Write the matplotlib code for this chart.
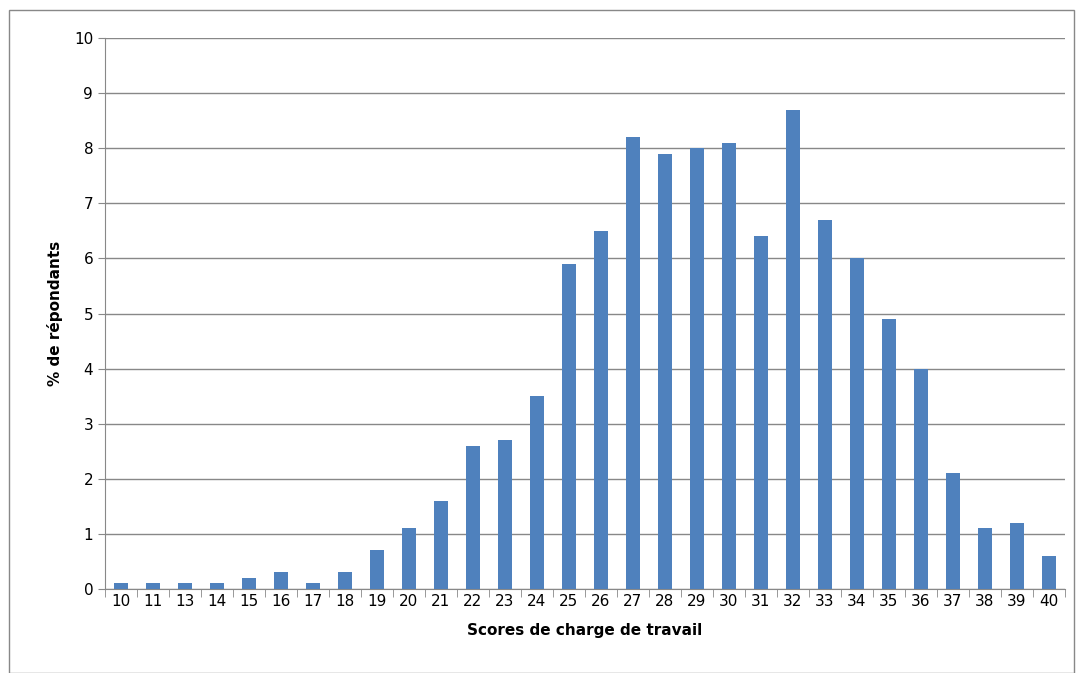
import matplotlib.pyplot as plt
import numpy as np

scores = ["10", "11", "13", "14", "15", "16", "17", "18", "19", "20", "21", "22", "23", "24", "25",
          "26", "27", "28", "29", "30", "31", "32", "33", "34", "35", "36", "37", "38", "39", "40"]
percent = [0.1, 0.1, 0.1, 0.1, 0.2, 0.3, 0.1, 0.3, 0.7, 1.1, 1.6, 2.6, 2.7, 3.5, 5.9,
           6.5, 8.2, 7.9, 8.0, 8.1, 6.4, 8.7, 6.7, 6.0, 4.9, 4.0, 2.1, 1.1, 1.2, 0.6]
yticks = list(range(0, 11))

fig = plt.figure(figsize=(10.76, 6.73), dpi=100)
ax = fig.add_axes([105 / 1076, 1 - 589 / 673, 960 / 1076, 551 / 673])
fig.patches.append(plt.Rectangle((0.008, 0.0), 0.99, 0.985, transform=fig.transFigure,
                                 fill=False, edgecolor="#888888", linewidth=1))

x = np.arange(len(scores))
ax.bar(x, percent, width=0.45, color="#4F81BD", zorder=3)
ax.set_xlim(-0.5, len(scores) - 0.5)
ax.set_ylim(0, 10)
ax.set_yticks(yticks)
ax.set_yticklabels([str(v) for v in yticks], fontsize=11)
ax.set_xticks(x)
ax.set_xticklabels(scores, fontsize=11)
ax.yaxis.grid(True, color="#888888", linewidth=1, zorder=0)
for s in ["top", "right"]:
    ax.spines[s].set_visible(False)
ax.spines["left"].set_color("#888888")
ax.spines["bottom"].set_color("#888888")
ax.tick_params(axis="y", length=5, color="#888888", direction="out")
ax.tick_params(axis="x", length=5, color="#888888", direction="out")
ax.set_xticks(np.arange(-0.5, len(scores)), minor=True)
ax.tick_params(axis="x", which="major", length=0)
ax.tick_params(axis="x", which="minor", length=6, color="#888888")

ax.set_xlabel("Scores de charge de travail", fontsize=11, fontweight="bold", labelpad=10)
ax.set_ylabel("% de répondants", fontsize=11, fontweight="bold", labelpad=8)

fig.savefig("out.png", dpi=100)
